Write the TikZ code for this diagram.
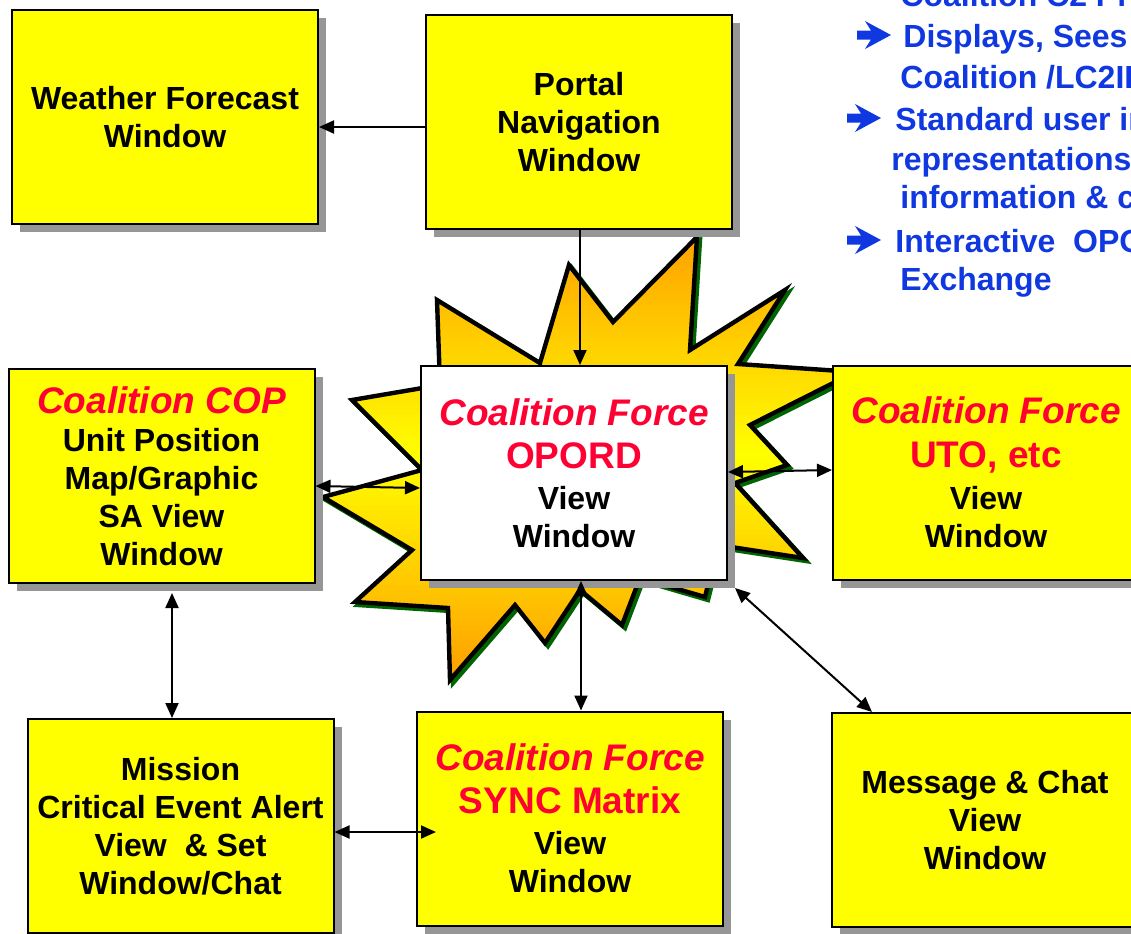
\documentclass[tikz,border=0pt]{standalone}
\usepackage{fontspec}
\setmainfont{Liberation Sans}
\usetikzlibrary{arrows.meta,shadows,calc}
\definecolor{cred}{RGB}{255,0,51}
\definecolor{cblue}{RGB}{16,56,224}
\definecolor{shgray}{RGB}{150,150,150}
\definecolor{byellow}{RGB}{255,255,0}
\definecolor{borange}{RGB}{255,158,0}
\definecolor{sgreen}{RGB}{0,100,0}
\newcommand{\redit}[1]{{\fontsize{18.5}{19}\selectfont\itshape\color{cred}#1}}
\newcommand{\redup}[1]{{\fontsize{18.5}{19}\selectfont\color{cred}#1}}
\def\burstpath{(697,237) -- (690,350) -- (785,290) -- (738,364) -- (855,372) -- (750,425) -- (787,465) -- (735,483)
  -- (803,558) -- (718,545) -- (705,597) -- (640,578) -- (622,625) -- (580,590) -- (545,643) -- (515,605)
  -- (450,680) -- (448,608) -- (355,602) -- (412,550) -- (323,497) -- (422,470) -- (352,400) -- (440,385)
  -- (437,300) -- (540,363) -- (569,265) -- (613,322) -- cycle}
\begin{document}
\lineskiplimit=-30pt
\begin{tikzpicture}[x=0.5pt,y=-0.5pt,
  win/.style={draw=black, line width=1pt, fill=byellow, align=center, inner sep=0pt,
     minimum width=153pt, minimum height=107pt,
     drop shadow={shadow xshift=4pt, shadow yshift=-4pt, fill=shgray, opacity=1},
     font=\bfseries\fontsize{16}{19}\selectfont},
  tip/.tip={Triangle[length=7.5pt,width=6.5pt]},
  arr/.style={line width=1pt, -tip},
  darr/.style={line width=1pt, tip-tip},
  bl/.style={anchor=base west, inner sep=0pt, text=cblue, font=\bfseries\fontsize{16}{19}\selectfont},
  bullet/.style={fill=cblue, draw=none}
]
\useasboundingbox (0,0) rectangle (1131,933);
\clip (0,0) rectangle (1131,933);

% starburst shadow
\fill[sgreen, shift={(1.5pt,-1.5pt)}] \burstpath;
\draw[sgreen, line width=2.2pt, line join=miter, shift={(1.5pt,-1.5pt)}] \burstpath;
% starburst gradient fill
\begin{scope}
  \clip \burstpath;
  \foreach \yy in {230,235,...,690}{
    \pgfmathsetmacro\pp{max(0,100-abs(\yy+2.5-455)/2.25)}
    \fill[byellow!\pp!borange] (300,\yy) rectangle (900,\yy+6);
  }
\end{scope}
\draw[black, line width=2.2pt, line join=miter] \burstpath;

% windows
\node[win] (weather) at (165,117) {Weather Forecast\\Window};
\node[win] (portal) at (579,122) {Portal\\Navigation\\Window};
\node[win] (cop) at (161.5,476) {\redit{Coalition COP}\\Unit Position\\Map/Graphic\\SA View\\Window};
\node[win, fill=white] (oporder) at (574,473) {\redit{Coalition Force}\\[2.5pt]\redup{OPORD}\\[1.5pt]View\\Window};
\node[win] (uto) at (986,472.5) {\redit{Coalition Force}\\[3pt]\redup{UTO, etc}\\[2pt]View\\Window};
\node[win] (mission) at (180.5,826) {Mission\\Critical Event Alert\\View\ \ \& Set\\Window/Chat};
\node[win] (sync) at (570,818.5) {\redit{Coalition Force}\\[2.5pt]\redup{SYNC Matrix}\\[1.5pt]View\\Window};
\node[win] (msg) at (985,820) {Message \& Chat\\View\\Window};

% connectors
\draw[arr] ([yshift=-2.5pt]portal.west) -- ([yshift=-2.5pt]portal.west -| weather.east);
\draw[arr] ([xshift=0.5pt]portal.south) -- ([xshift=0.5pt]portal.south |- oporder.north);
\draw[darr] ([yshift=-5pt]cop.east) -- ([yshift=-7.5pt]oporder.west);
\draw[darr] ([yshift=0.5pt]oporder.east) -- ([yshift=1.25pt]uto.west);
\draw[darr] ([xshift=3.5pt]oporder.south) -- ([xshift=3.5pt]oporder.south |- sync.north);
\draw[darr] ([shift={(3.5pt,-3.5pt)}]oporder.south east) -- ([xshift=20.5pt]msg.north west);
\draw[darr] ([xshift=5.25pt,yshift=-4.5pt]cop.south) -- ([xshift=5.25pt]cop.south |- mission.north);
\draw[darr] ([yshift=-3pt]mission.east) -- ([yshift=-3pt,xshift=10pt]mission.east -| sync.west);

% blue bullet arrows
\foreach \bx/\by in {857/35, 847/118, 847/240}{
  \fill[bullet] (\bx,\by-4.5) -- (\bx+14,\by-4.5) -- (\bx+8,\by-14) -- (\bx+34,\by)
    -- (\bx+8,\by+14) -- (\bx+14,\by+4.5) -- (\bx,\by+4.5) -- cycle;
}
% blue text
\node[bl] (t0) at (900,6) {Coalition C2 Pl};
\node[bl] (t1) at (903,47) {Displays, Sees};
\node[bl] (t2) at (900,88) {Coalition /LC2IE};
\node[bl] (t3) at (895,130) {Standard user in};
\node[bl] (t4) at (891,170) {representations};
\node[bl] (t5) at (900,208) {information \& c};
\node[bl] (t6) at (895,252) {Interactive\ \ OPORD};
\node[bl] (t7) at (900,290) {Exchange};
\end{tikzpicture}
\end{document}
